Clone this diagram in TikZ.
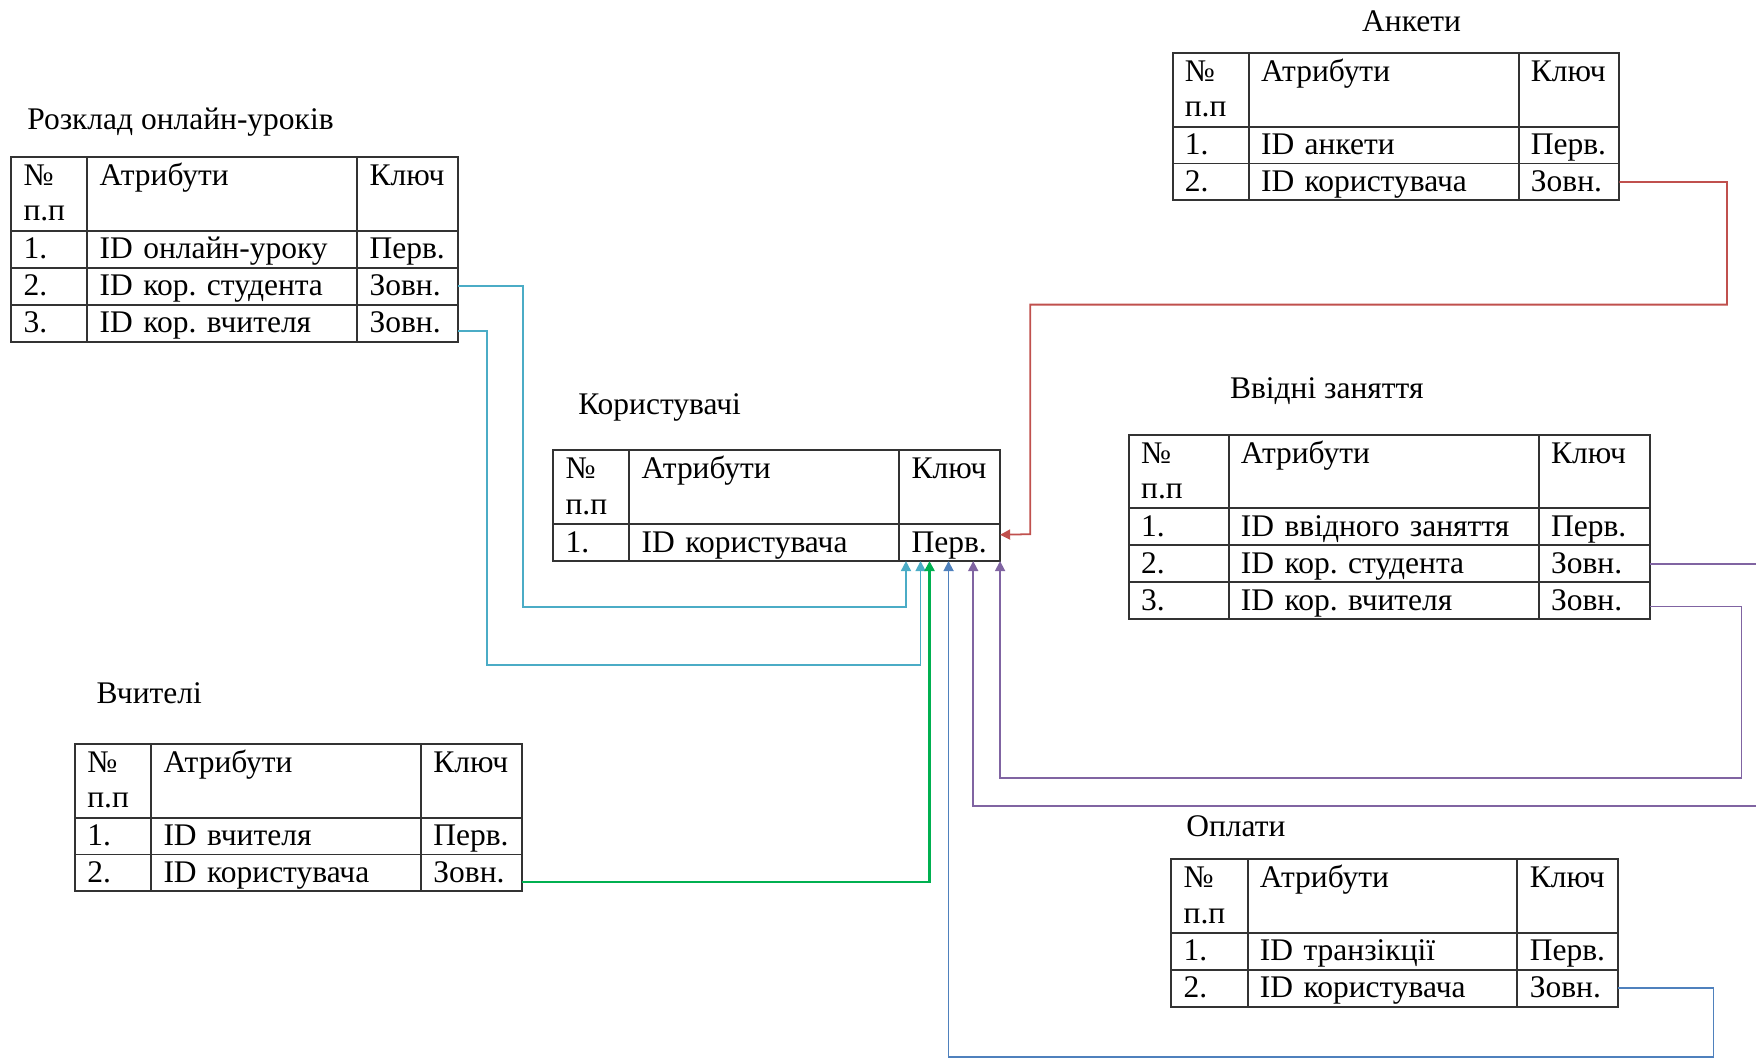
\documentclass[tikz,border=0pt]{standalone}
\usepackage{fontspec}
\setmainfont{Liberation Serif}
\usepackage{tikz}
\usetikzlibrary{arrows.meta,positioning,calc}
\frenchspacing

\definecolor{tabline}{HTML}{333333}
\definecolor{fkred}{HTML}{C0504D}
\definecolor{fkcyan}{HTML}{4BACC6}
\definecolor{fkgreen}{HTML}{00B050}
\definecolor{fkblue}{HTML}{4F81BD}
\definecolor{fkpurple}{HTML}{8064A2}

\newcommand{\cellstrut}{\rule[-4.2pt]{0pt}{18pt}}

\tikzset{
  cell/.style 2 args={draw=tabline,line width=1pt,anchor=north west,
    inner xsep=0.22cm,inner ysep=0pt,outer sep=0pt,minimum height=0.66cm,
    minimum width=#1,text width=#2,align=left},
  hdr/.style={minimum height=1.32cm},
  ttl/.style={anchor=west,inner sep=0pt},
  fk/.style={line width=0.9pt,-{Triangle[width=0.18cm,length=0.18cm]}}
}

% table: name, left, top, column widths (3), rows num/attr/key
\newcommand{\ertab}[7]{%
  \pgfmathsetlengthmacro\wa{#4*0.02cm}\pgfmathsetlengthmacro\ta{(#4-22)*0.02cm}%
  \pgfmathsetlengthmacro\wb{#5*0.02cm}\pgfmathsetlengthmacro\tb{(#5-22)*0.02cm}%
  \pgfmathsetlengthmacro\wc{#6*0.02cm}\pgfmathsetlengthmacro\tc{(#6-22)*0.02cm}%
  \node[cell={\wa}{\ta},hdr] (#1-h1) at (#2,#3) {\cellstrut№\\п.п\cellstrut};
  \node[cell={\wb}{\tb},hdr] (#1-h2) at (#1-h1.north east) {\cellstrut Атрибути\\\cellstrut};
  \node[cell={\wc}{\tc},hdr] (#1-h3) at (#1-h2.north east) {\cellstrut Ключ\\\cellstrut};
  \foreach \n/\a/\k [count=\i] in {#7}{
    \node[cell={\wa}{\ta}] (#1-\i-1) at (#2,#3+33+33*\i) {\cellstrut\n};
    \node[cell={\wb}{\tb}] (#1-\i-2) at (#1-\i-1.north east) {\cellstrut\a};
    \node[cell={\wc}{\tc}] (#1-\i-3) at (#1-\i-2.north east) {\cellstrut\k};
  }%
}

\begin{document}
\begin{tikzpicture}[x=0.02cm,y=-0.02cm,font=\fontsize{16}{18}\selectfont]
\useasboundingbox (0,0) rectangle (1568,947);
\clip (0,0) rectangle (1568,947);

% tables
\node[ttl] (sched-t) at (24,109) {Розклад онлайн-уроків};
\ertab{sched}{10}{140}{68}{241}{90}{1./ID онлайн-уроку/Перв.,2./ID кор. студента/Зовн.,3./ID кор. вчителя/Зовн.}
\node[ttl] (users-t) at (516,364) {Користувачі};
\ertab{users}{494}{402}{68}{241}{90}{1./ID користувача/Перв.}
\node[ttl] (anket-t) at (1216,19) {Анкети};
\ertab{anket}{1047}{47}{68}{241}{90}{1./ID анкети/Перв.,2./ID користувача/Зовн.}
\node[ttl] (intro-t) at (1098,349) {Ввідні заняття};
\ertab{intro}{1008}{388}{89}{277}{99}{1./ID ввідного заняття/Перв.,2./ID кор. студента/Зовн.,3./ID кор. вчителя/Зовн.}
\node[ttl] (teach-t) at (86,619) {Вчителі};
\ertab{teach}{67}{664}{68}{241}{90}{1./ID вчителя/Перв.,2./ID користувача/Зовн.}
\node[ttl] (pay-t) at (1059,738) {Оплати};
\ertab{pay}{1046}{767}{68}{241}{90}{1./ID транзікції/Перв.,2./ID користувача/Зовн.}

% arrow ends on the key cell of users
\coordinate (in-r) at ($(users-1-3.east)+(0,-7)$);
\coordinate (in-a) at ($(users-1-3.south west)+(6,0)$);
\coordinate (in-b) at ($(users-1-3.south west)+(19,0)$);
\coordinate (in-c) at ($(users-1-3.south west)+(27,0)$);
\coordinate (in-d) at ($(users-1-3.south west)+(44,0)$);
\coordinate (in-e) at ($(users-1-3.south west)+(66,0)$);
\coordinate (in-f) at (users-1-3.south east);

% links
\draw[fk,fkred] (anket-2-3.east) -| (1542,272) -| (920,477) -- (in-r);
\draw[fk,fkcyan] (sched-2-3.east) -| (467,542) -| (in-a);
\draw[fk,fkcyan] ($(sched-3-3.east)+(0,7)$) -| (435,594) -| (in-b);
\draw[fk,fkgreen,line width=1.4pt] ($(teach-2-3.east)+(0,8)$) -| (in-c);
\draw[fk,fkblue] (pay-2-3.east) -| (1530,944) -| (in-d);
\draw[fk,fkpurple] (intro-2-3.east) -| (1590,720) -| (in-e);
\draw[fk,fkpurple] ($(intro-3-3.east)+(0,5)$) -| (1555,695) -| (in-f);
\end{tikzpicture}
\end{document}
